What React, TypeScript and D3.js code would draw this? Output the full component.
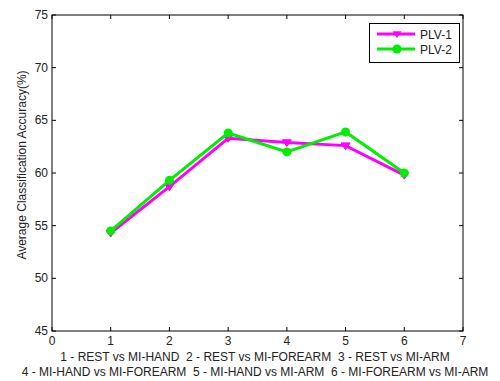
import React from "react";
import * as d3 from "d3";

const xValues = [1, 2, 3, 4, 5, 6];
const plv1 = [54.3, 58.7, 63.3, 62.9, 62.6, 59.8];
const plv2 = [54.5, 59.3, 63.8, 62.0, 63.9, 60.0];
const xTicks = [0, 1, 2, 3, 4, 5, 6, 7];
const yTicks = [45, 50, 55, 60, 65, 70, 75];
const seriesNames = ["PLV-1", "PLV-2"];
const seriesColors = ["#ff00ff", "#00ee00"];
const xLabelLines = [
  "1 - REST vs MI-HAND  2 - REST vs MI-FOREARM  3 - REST vs MI-ARM",
  "4 - MI-HAND vs MI-FOREARM  5 - MI-HAND vs MI-ARM  6 - MI-FOREARM vs MI-ARM",
];
const yLabel = "Average Classification Accuracy(%)";

export default function App() {
  const W = 500, H = 381;
  const left = 52, right = 463, top = 15, bottom = 331;
  const x = d3.scaleLinear().domain([0, 7]).range([left, right]);
  const y = d3.scaleLinear().domain([45, 75]).range([bottom, top]);
  const font = "Arial, 'Liberation Sans', sans-serif";
  const line = d3.line<number>().x((_, i) => x(xValues[i])).y((d) => y(d));
  const tri = (cx: number, cy: number, r: number) =>
    `M${cx - r},${cy - r * 0.6} L${cx + r},${cy - r * 0.6} L${cx},${cy + r * 0.9} Z`;
  const series = [plv1, plv2];
  const tl = 4;
  return (
    <svg width={W} height={H} style={{ position: "absolute", left: 0, top: 0, background: "#fff" }}>
      <rect x={0} y={0} width={W} height={H} fill="#fff" />
      {xTicks.map((t) => (
        <g key={"xt" + t}>
          <line x1={x(t)} x2={x(t)} y1={bottom} y2={bottom - tl} stroke="#000" />
          <line x1={x(t)} x2={x(t)} y1={top} y2={top + tl} stroke="#000" />
          <text x={x(t)} y={bottom + 14} fontSize={12} fontFamily={font} textAnchor="middle" fill="#222">{t}</text>
        </g>
      ))}
      {yTicks.map((t) => (
        <g key={"yt" + t}>
          <line x1={left} x2={left + tl} y1={y(t)} y2={y(t)} stroke="#000" />
          <line x1={right} x2={right - tl} y1={y(t)} y2={y(t)} stroke="#000" />
          <text x={left - 4} y={y(t) + 4} fontSize={12} fontFamily={font} textAnchor="end" fill="#222">{t}</text>
        </g>
      ))}
      <rect x={left} y={top} width={right - left} height={bottom - top} fill="none" stroke="#000" strokeWidth={1} />
      {series.map((s, si) => (
        <g key={"s" + si}>
          <path d={line(s) || ""} fill="none" stroke={seriesColors[si]} strokeWidth={3} />
          {s.map((v, i) =>
            si === 0 ? (
              <path key={i} d={tri(x(xValues[i]), y(v), 4.5)} fill={seriesColors[si]} stroke={seriesColors[si]} />
            ) : (
              <circle key={i} cx={x(xValues[i])} cy={y(v)} r={4.5} fill={seriesColors[si]} />
            )
          )}
        </g>
      ))}
      <rect x={369.5} y={23.5} width={90} height={39} fill="#fff" stroke="#000" />
      {seriesNames.map((n, i) => {
        const ly = 34 + i * 15;
        return (
          <g key={n}>
            <line x1={377} x2={415} y1={ly} y2={ly} stroke={seriesColors[i]} strokeWidth={3} />
            {i === 0 ? (
              <path d={tri(397, ly, 4.5)} fill={seriesColors[i]} />
            ) : (
              <circle cx={397} cy={ly} r={4.5} fill={seriesColors[i]} />
            )}
            <text x={420} y={ly + 4.5} fontSize={12} fontFamily={font} fill="#222">{n}</text>
          </g>
        );
      })}
      {xLabelLines.map((l, i) => (
        <text key={i} x={255} y={361 + i * 15} fontSize={12} fontFamily={font} textAnchor="middle" fill="#222" style={{ whiteSpace: "pre" }}>{l}</text>
      ))}
      <text transform={`translate(26,165) rotate(-90)`} fontSize={12} fontFamily={font} textAnchor="middle" fill="#222">{yLabel}</text>
    </svg>
  );
}
